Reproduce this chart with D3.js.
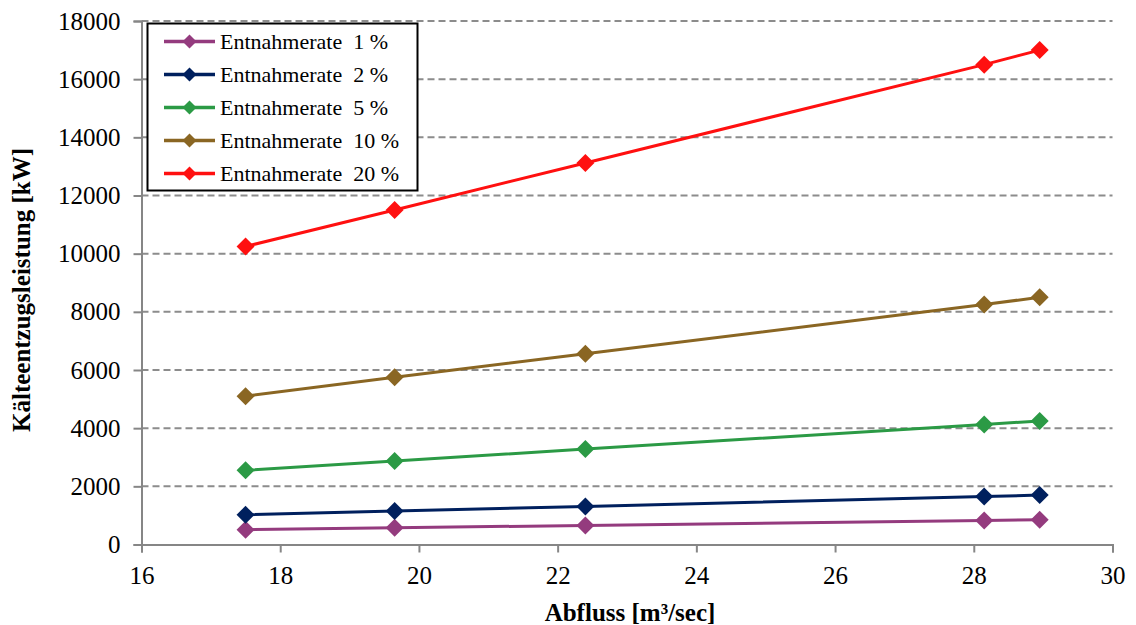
<!DOCTYPE html>
<html>
<head>
<meta charset="utf-8">
<script src="https://cdn.jsdelivr.net/npm/d3@7"></script>
<style>
  html, body { margin: 0; padding: 0; background: #fff; }
  svg { display: block; }
</style>
</head>
<body>
<svg id="chart" width="1136" height="625" font-family="Liberation Serif"></svg>
<script>
// ---- data ----
const abfluss = [17.5, 19.65, 22.4, 28.15, 28.95];
const seriesNames = ["Entnahmerate  1 %", "Entnahmerate  2 %", "Entnahmerate  5 %", "Entnahmerate  10 %", "Entnahmerate  20 %"];
const rate1  = [510, 575, 655, 825, 850];
const rate2  = [1020, 1150, 1310, 1650, 1700];
const rate5  = [2550, 2875, 3280, 4125, 4250];
const rate10 = [5100, 5750, 6560, 8250, 8500];
const rate20 = [10250, 11500, 13120, 16500, 17000];
const seriesColors = ["#943B7E", "#00205E", "#2B9A45", "#8A6623", "#FF1010"];
const xTicks = [16, 18, 20, 22, 24, 26, 28, 30];
const yTicks = [0, 2000, 4000, 6000, 8000, 10000, 12000, 14000, 16000, 18000];
const xTitle = "Abfluss [m³/sec]";
const yTitle = "Kälteentzugsleistung [kW]";

const seriesValues = [rate1, rate2, rate5, rate10, rate20];
const FONT = "Liberation Serif";

const svg = d3.select("#chart");
const x = d3.scaleLinear().domain([16, 30]).range([141.5, 1112.5]);
const y = d3.scaleLinear().domain([0, 18000]).range([544.5, 21]);

// grid
svg.append("g").selectAll("line")
  .data(yTicks.filter(d => d > 0))
  .join("line")
  .attr("x1", x(16)).attr("x2", x(30))
  .attr("y1", d => y(d)).attr("y2", d => y(d))
  .attr("stroke", "#8C8C8C").attr("stroke-width", 2)
  .attr("stroke-dasharray", "7,4");

// axes
const axisColor = "#868686";
const gy = svg.append("g").attr("transform", `translate(${x(16)},0)`)
  .call(d3.axisLeft(y).tickValues(yTicks).tickFormat(d3.format("d")).tickSize(8).tickPadding(13));
const gx = svg.append("g").attr("transform", `translate(0,${y(0)})`)
  .call(d3.axisBottom(x).tickValues(xTicks).tickFormat(d3.format("d")).tickSize(8).tickPadding(14));
[gx, gy].forEach(g => {
  g.attr("font-family", FONT).attr("font-size", 25);
  g.select(".domain").attr("stroke", axisColor).attr("stroke-width", 2);
  g.selectAll(".tick line").attr("stroke", axisColor).attr("stroke-width", 2);
  g.selectAll(".tick text").attr("fill", "#000").attr("font-family", FONT).attr("font-size", 25);
});

// titles
svg.append("text").attr("x", 630).attr("y", 621)
  .attr("font-family", FONT)
  .attr("text-anchor", "middle").attr("font-weight", "bold").attr("font-size", 25)
  .text(xTitle);
svg.append("text").attr("transform", "translate(30,290) rotate(-90)")
  .attr("font-family", FONT)
  .attr("text-anchor", "middle").attr("font-weight", "bold").attr("font-size", 25)
  .text(yTitle);

// series
const diamond = r => `M0,${-r}L${r},0L0,${r}L${-r},0Z`;
const line = d3.line().x((d, i) => x(abfluss[i])).y(d => y(d));
seriesValues.forEach((vals, s) => {
  const g = svg.append("g");
  g.append("path").attr("d", line(vals)).attr("fill", "none")
    .attr("stroke", seriesColors[s]).attr("stroke-width", 3);
  g.selectAll("path.m").data(vals).join("path").attr("class", "m")
    .attr("transform", (d, i) => `translate(${x(abfluss[i])},${y(d)})`)
    .attr("d", diamond(9)).attr("fill", seriesColors[s]);
});

// legend
const lg = svg.append("g");
lg.append("rect").attr("x", 147.5).attr("y", 23.5).attr("width", 270).attr("height", 167)
  .attr("fill", "#fff").attr("stroke", "#000").attr("stroke-width", 2);
seriesNames.forEach((name, i) => {
  const cy = 41.5 + i * 33;
  lg.append("line").attr("x1", 164).attr("x2", 215).attr("y1", cy).attr("y2", cy)
    .attr("stroke", seriesColors[i]).attr("stroke-width", 3.5);
  lg.append("path").attr("transform", `translate(189.5,${cy})`).attr("d", diamond(7))
    .attr("fill", seriesColors[i]);
  lg.append("text").attr("x", 220).attr("y", cy + 7.5).attr("font-size", 22)
    .attr("font-family", FONT)
    .attr("xml:space", "preserve").style("white-space", "pre").text(name);
});
</script>
</body>
</html>
